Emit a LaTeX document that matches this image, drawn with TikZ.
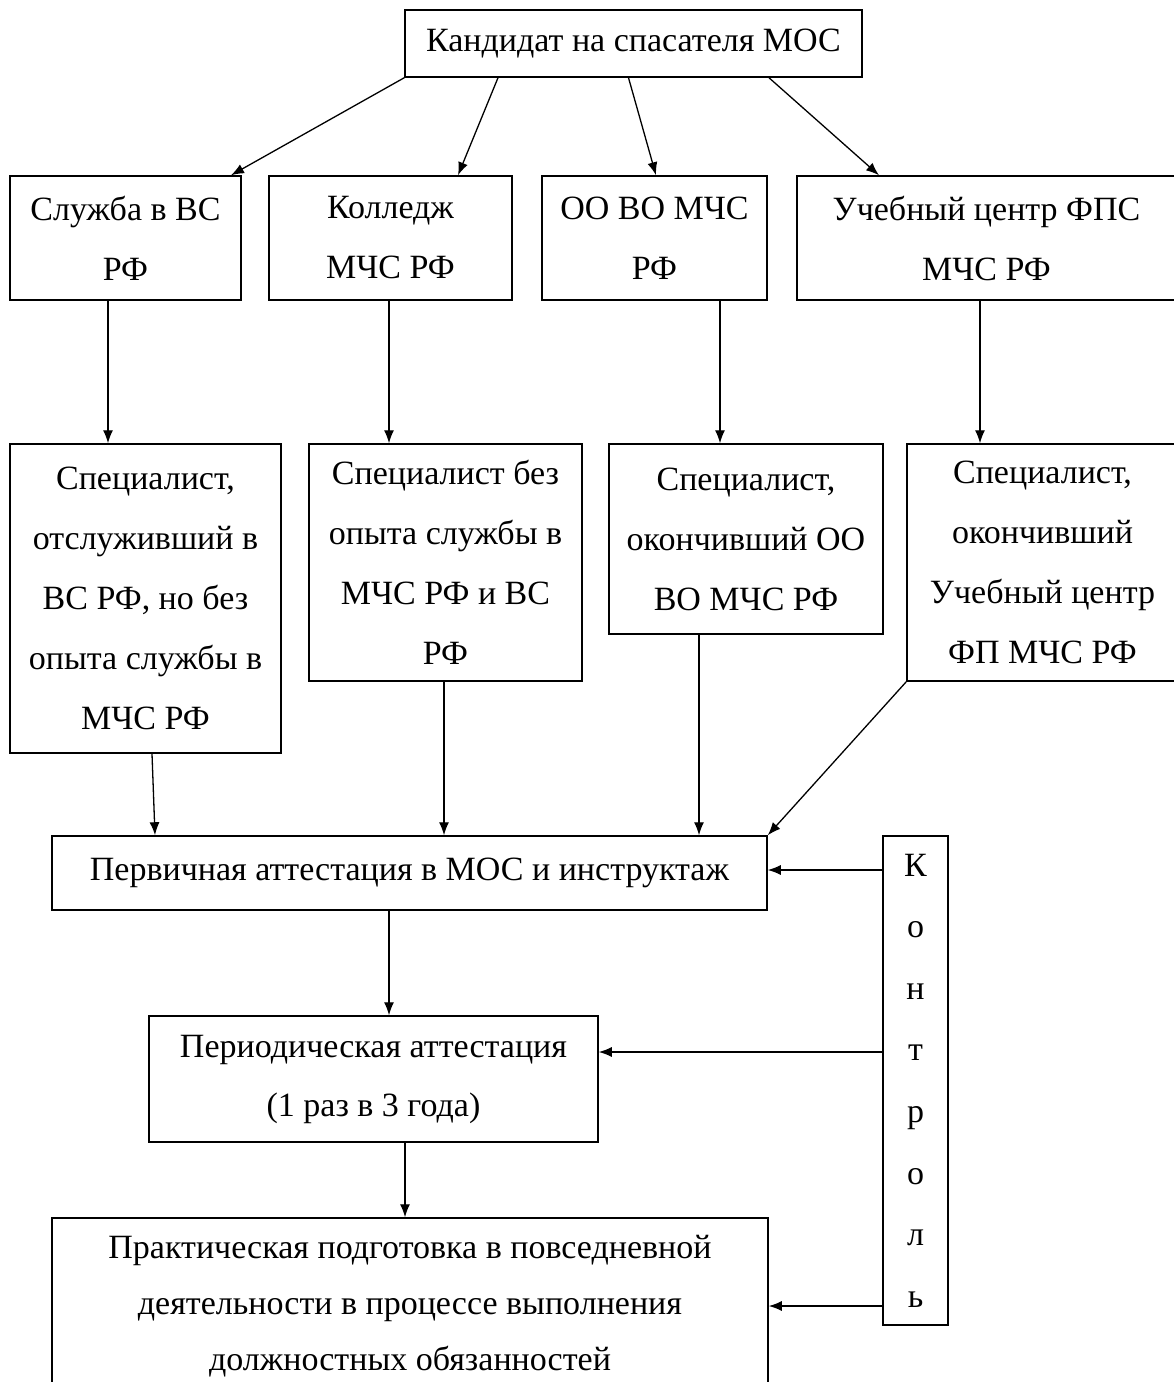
\documentclass[tikz,border=0pt]{standalone}
\usepackage{fontspec}
\setmainfont{Liberation Serif}
\usetikzlibrary{arrows.meta}
\begin{document}
\begin{tikzpicture}[x=1pt,y=-1pt,
  box/.style={draw, line width=1.5pt, inner sep=0pt, align=center, font=\fontsize{34}{60}\selectfont},
  arr/.style={line width=1.3pt, -{Latex[length=13pt,width=10pt]}}]
\useasboundingbox[fill=white] (0,0) rectangle (1174,1382);
\node[box, minimum width=457pt, minimum height=67pt] (top) at (633.5,43.5) {Кандидат на спасателя МОС};
\node[box, minimum width=231pt, minimum height=124pt] (b1) at (125.5,238) {Служба в ВС\\РФ};
\node[box, minimum width=243pt, minimum height=124pt] (b2) at (390.5,238) {Колледж\\МЧС РФ};
\node[box, minimum width=225pt, minimum height=124pt] (b3) at (654.5,238) {ОО ВО МЧС\\РФ};
\node[box, minimum width=379pt, minimum height=124pt] (b4) at (986.5,238) {Учебный центр ФПС\\МЧС РФ};
\node[box, minimum width=271pt, minimum height=309pt] (c1) at (145.5,598.5) {Специалист,\\отслуживший в\\ВС РФ, но без\\опыта службы в\\МЧС РФ};
\node[box, minimum width=273pt, minimum height=237pt] (c2) at (445.5,562.5) {Специалист без\\опыта службы в\\МЧС РФ и ВС\\РФ};
\node[box, minimum width=274pt, minimum height=190pt] (c3) at (746,539) {Специалист,\\окончивший ОО\\ВО МЧС РФ};
\node[box, minimum width=271pt, minimum height=237pt] (c4) at (1042.5,562.5) {Специалист,\\окончивший\\Учебный центр\\ФП МЧС РФ};
\node[box, minimum width=715pt, minimum height=74pt] (d) at (409.5,873) {Первичная аттестация в МОС и инструктаж};
\node[box, minimum width=65pt, minimum height=489pt, font=\fontsize{34}{61.6}\selectfont] (k) at (915.5,1080.5) {К\\о\\н\\т\\р\\о\\л\\ь};
\node[box, minimum width=449pt, minimum height=126pt, font=\fontsize{34}{59}\selectfont] (e) at (373.5,1079) {Периодическая аттестация\\(1 раз в 3 года)};
\node[box, minimum width=716pt, minimum height=176pt, font=\fontsize{34}{56}\selectfont] (f) at (410,1306) {Практическая подготовка в повседневной\\деятельности в процессе выполнения\\должностных обязанностей};
% top to row 1
\draw[arr] (top.south west) -- ([xshift=105.5pt]b1.north);
\draw[arr] ([xshift=-135.5pt]top.south) -- ([xshift=67.5pt]b2.north);
\draw[arr] ([xshift=-5pt]top.south) -- ([xshift=1.5pt]b3.north);
\draw[arr] ([xshift=135.5pt]top.south) -- ([xshift=-107.5pt]b4.north);
% row 1 to row 2
\draw[arr] ([xshift=-17.5pt]b1.south) -- ([xshift=-17.5pt]b1.south |- c1.north);
\draw[arr] ([xshift=-1.5pt]b2.south) -- ([xshift=-1.5pt]b2.south |- c2.north);
\draw[arr] ([xshift=65.5pt]b3.south) -- ([xshift=65.5pt]b3.south |- c3.north);
\draw[arr] ([xshift=-6.5pt]b4.south) -- ([xshift=-6.5pt]b4.south |- c4.north);
% row 2 to d
\draw[arr] ([xshift=6.5pt]c1.south) -- ([xshift=-254.5pt]d.north);
\draw[arr] ([xshift=-1.5pt]c2.south) -- ([xshift=-1.5pt]c2.south |- d.north);
\draw[arr] ([xshift=-47pt]c3.south) -- ([xshift=-47pt]c3.south |- d.north);
\draw[arr] (c4.south west) -- (d.north east);
% chain
\draw[arr] ([xshift=-20.5pt]d.south) -- ([xshift=-20.5pt]d.south |- e.north);
\draw[arr] ([xshift=31.5pt]e.south) -- ([xshift=31.5pt]e.south |- f.north);
% control
\coordinate (ep) at ([yshift=27pt]e.east);
\coordinate (dp) at ([yshift=3pt]d.east);
\draw[arr] (k.west |- dp) -- (dp);
\draw[arr] (k.west |- ep) -- (ep);
\draw[arr] (k.west |- f.east) -- (f.east);
\end{tikzpicture}
\end{document}
